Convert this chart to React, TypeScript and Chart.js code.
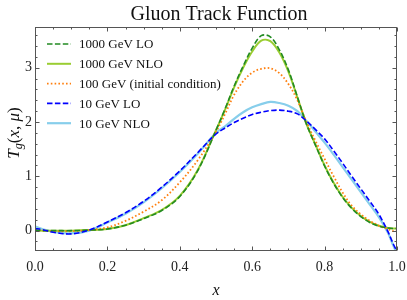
import { useEffect, useRef } from 'react';
import { Chart, registerables } from 'chart.js';

Chart.register(...registerables);

// ---- data ----
const xValues = [0, 0.02, 0.05, 0.1, 0.15, 0.2, 0.25, 0.3, 0.35, 0.4, 0.45, 0.5, 0.525, 0.55, 0.575, 0.6, 0.625, 0.65, 0.675, 0.7, 0.725, 0.75, 0.775, 0.8, 0.825, 0.85, 0.875, 0.9, 0.925, 0.95, 0.975, 0.99, 1.0];

const lo1000 = [0.01, 0.0, 0.0, 0.0, 0.01, 0.03, 0.1, 0.22, 0.37, 0.63, 1.11, 1.85, 2.24, 2.66, 3.03, 3.36, 3.59, 3.57, 3.33, 2.96, 2.46, 1.96, 1.57, 1.19, 0.87, 0.61, 0.41, 0.26, 0.15, 0.08, 0.05, 0.04, 0.04];
const nlo1000 = [0.01, 0.0, 0.0, 0.0, 0.01, 0.03, 0.1, 0.23, 0.38, 0.64, 1.12, 1.85, 2.23, 2.64, 3.0, 3.3, 3.5, 3.49, 3.28, 2.93, 2.45, 1.96, 1.58, 1.2, 0.88, 0.62, 0.42, 0.27, 0.16, 0.09, 0.05, 0.04, 0.04];
const initial100 = [0.0, 0.0, -0.01, -0.01, 0.01, 0.06, 0.18, 0.35, 0.56, 0.89, 1.3, 1.82, 2.15, 2.5, 2.75, 2.91, 2.98, 2.99, 2.9, 2.7, 2.4, 2.0, 1.65, 1.32, 1.0, 0.7, 0.46, 0.3, 0.18, 0.09, 0.03, -0.01, 0.0];
const lo10 = [0.04, 0.02, -0.03, -0.06, 0.01, 0.16, 0.33, 0.54, 0.8, 1.1, 1.44, 1.78, 1.89, 1.99, 2.07, 2.14, 2.18, 2.21, 2.22, 2.2, 2.15, 2.02, 1.86, 1.69, 1.47, 1.24, 1.0, 0.77, 0.54, 0.3, -0.02, -0.25, -0.38];
const nlo10 = [0.08, 0.03, -0.02, -0.05, 0.0, 0.15, 0.31, 0.52, 0.78, 1.08, 1.42, 1.8, 1.92, 2.06, 2.18, 2.27, 2.33, 2.37, 2.35, 2.3, 2.2, 2.02, 1.82, 1.62, 1.4, 1.17, 0.94, 0.71, 0.48, 0.25, -0.04, -0.28, -0.42];

const seriesLabels = ['1000 GeV LO', '1000 GeV NLO', '100 GeV (initial condition)', '10 GeV LO', '10 GeV NLO'];
const xTickValues = [0, 0.2, 0.4, 0.6, 0.8, 1.0];
const yTickValues = [0, 1, 2, 3];
const titleText = 'Gluon Track Function';
const xAxisLabel = 'x';

// ---- styles ----
const SERIF = '"Liberation Serif", "Times New Roman", serif';
const styles = [
  { color: '#228B22', width: 1.6, dash: [5.5, 2.4], order: 1 },
  { color: '#9ACD32', width: 2.0, dash: [], order: 3 },
  { color: '#FF7F0E', width: 1.8, dash: [1.6, 2.2], order: 2 },
  { color: '#0000FF', width: 1.6, dash: [5.5, 2.4], order: 0 },
  { color: '#87CEEB', width: 2.2, dash: [], order: 4 },
];
const seriesValues = [lo1000, nlo1000, initial100, lo10, nlo10];

const decorPlugin = {
  id: 'decor',
  afterDraw(chart: any) {
    const { ctx, chartArea: a, scales } = chart;
    const xs = scales.x;
    const ys = scales.y;
    ctx.save();
    const L = Math.round(a.left) + 0.5;
    const R = Math.round(a.right) - 0.5;
    const T = Math.round(a.top) + 0.5;
    const B = Math.round(a.bottom) - 0.5;
    ctx.strokeStyle = '#555';
    ctx.lineWidth = 1;
    ctx.strokeRect(L, T, R - L, B - T);

    // inward ticks on all four sides
    ctx.beginPath();
    for (let i = 0; i <= 20; i++) {
      const v = i * 0.05;
      const major = i % 4 === 0;
      const len = major ? 4 : 2;
      const px = Math.round(xs.getPixelForValue(v)) + 0.5;
      ctx.moveTo(px, B); ctx.lineTo(px, B - len);
      ctx.moveTo(px, T); ctx.lineTo(px, T + len);
    }
    for (let i = -1; i <= 18; i++) {
      const v = i * 0.2;
      if (v < ys.min || v > ys.max) continue;
      const major = i % 5 === 0;
      const len = major ? 4 : 2;
      const py = Math.round(ys.getPixelForValue(v)) + 0.5;
      ctx.moveTo(L, py); ctx.lineTo(L + len, py);
      ctx.moveTo(R, py); ctx.lineTo(R - len, py);
    }
    ctx.stroke();

    // title
    ctx.fillStyle = '#111';
    ctx.font = `20px ${SERIF}`;
    ctx.textAlign = 'center';
    ctx.textBaseline = 'alphabetic';
    ctx.fillText(titleText, (a.left + a.right) / 2 + 3, 20);

    // x label
    ctx.font = `italic 16px ${SERIF}`;
    ctx.fillText(xAxisLabel, (a.left + a.right) / 2, 295);

    // y label T_g(x, μ)
    ctx.save();
    ctx.translate(14, 133);
    ctx.rotate(-Math.PI / 2);
    const big = 17;
    const parts = [
      { t: 'T', f: `italic ${big}px ${SERIF}`, dy: 0 },
      { t: 'g', f: `italic ${Math.round(big * 0.72)}px ${SERIF}`, dy: 3 },
      { t: '(', f: `${big}px ${SERIF}`, dy: 0 },
      { t: 'x', f: `italic ${big}px ${SERIF}`, dy: 0 },
      { t: ', ', f: `${big}px ${SERIF}`, dy: 0 },
      { t: 'μ', f: `italic ${big}px ${SERIF}`, dy: 0 },
      { t: ')', f: `${big}px ${SERIF}`, dy: 0 },
    ];
    let total = 0;
    const widths = parts.map((p) => { ctx.font = p.f; const w = ctx.measureText(p.t).width; total += w; return w; });
    let cx = -total / 2;
    ctx.textAlign = 'left';
    parts.forEach((p, i) => {
      ctx.font = p.f;
      ctx.fillText(p.t, cx, 5 + p.dy);
      cx += widths[i];
    });
    ctx.restore();

    // legend
    const rowY0 = 44;
    const rowGap = 19.8;
    ctx.font = `13px ${SERIF}`;
    ctx.textAlign = 'left';
    ctx.textBaseline = 'middle';
    seriesLabels.forEach((lab, i) => {
      const st = styles[i];
      const yy = rowY0 + i * rowGap;
      ctx.beginPath();
      ctx.strokeStyle = st.color;
      ctx.lineWidth = st.width;
      ctx.setLineDash(st.dash);
      ctx.moveTo(47, yy);
      ctx.lineTo(71, yy);
      ctx.stroke();
      ctx.setLineDash([]);
      ctx.fillStyle = '#111';
      ctx.fillText(lab, 79, yy + 1);
    });
    ctx.restore();
  },
};

export default function App() {
  const ref = useRef<HTMLCanvasElement | null>(null);
  useEffect(() => {
    if (!ref.current) return;
    const datasets = seriesLabels.map((label, i) => ({
      label,
      data: xValues.map((x, j) => ({ x, y: seriesValues[i][j] })),
      borderColor: styles[i].color,
      backgroundColor: styles[i].color,
      borderWidth: styles[i].width,
      borderDash: styles[i].dash,
      pointRadius: 0,
      fill: false,
      tension: 0.35,
      order: styles[i].order,
    }));
    const chart = new Chart(ref.current, {
      type: 'line',
      data: { datasets },
      options: {
        animation: false,
        responsive: false,
        layout: { padding: { top: 27, right: 10, left: 0, bottom: 0 } },
        plugins: { legend: { display: false }, tooltip: { enabled: false }, title: { display: false } },
        scales: {
          x: {
            type: 'linear',
            min: 0,
            max: 1,
            afterBuildTicks: (s: any) => { s.ticks = xTickValues.map((v) => ({ value: v })); },
            afterFit: (s: any) => { s.height = 49; s.paddingLeft = 0; s.paddingRight = 0; },
            grid: { display: false, drawTicks: false },
            border: { display: false },
            ticks: {
              padding: 8,
              color: '#222',
              autoSkip: false,
              maxRotation: 0,
              font: { family: SERIF, size: 14 },
              callback: (v: any) => Number(v).toFixed(1),
            },
          },
          y: {
            type: 'linear',
            min: -0.375,
            max: 3.75,
            afterBuildTicks: (s: any) => { s.ticks = yTickValues.map((v) => ({ value: v })); },
            afterFit: (s: any) => { s.width = 35; s.paddingTop = 0; s.paddingBottom = 0; },
            grid: { display: false, drawTicks: false },
            border: { display: false },
            ticks: {
              padding: 3,
              color: '#222',
              autoSkip: false,
              font: { family: SERIF, size: 14 },
              callback: (v: any) => String(v),
            },
          },
        },
      },
      plugins: [decorPlugin],
    } as any);
    return () => chart.destroy();
  }, []);
  return (
    <div style={{ position: 'absolute', left: 0, top: 0, width: 407, height: 300, background: '#fff' }}>
      <canvas ref={ref} width={407} height={300} style={{ width: 407, height: 300 }} />
    </div>
  );
}
